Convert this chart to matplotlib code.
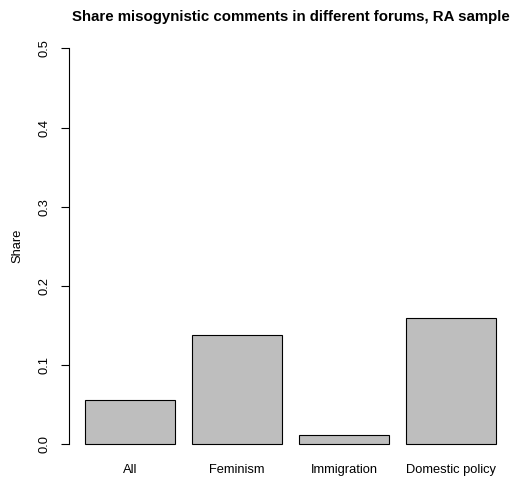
import numpy as np
import matplotlib.pyplot as plt

plt.rcParams['font.family'] = ['Liberation Sans', 'DejaVu Sans']

# Data
forums = ["All", "Feminism", "Immigration", "Domestic policy"]
shares = [0.0556, 0.138, 0.0114, 0.160]
y_ticks = [0.0, 0.1, 0.2, 0.3, 0.4, 0.5]

fig = plt.figure(figsize=(5.11, 4.79), dpi=100)
ax = fig.add_axes([69 / 511, 1 - 460.1 / 479, (512 - 69) / 511, (460.1 - 32.5) / 479])

# R-style barplot: width 1, space 0.2
x = 0.2 + np.arange(len(forums)) * 1.2 + 0.5
ax.bar(x, shares, width=1.0, color='#BEBEBE', edgecolor='black', linewidth=0.8)

ax.set_xlim(0.016, 4.984)
ax.set_ylim(-0.02, 0.52)

for s in ['top', 'right', 'bottom']:
    ax.spines[s].set_visible(False)
ax.spines['left'].set_bounds(0, 0.5)
ax.spines['left'].set_linewidth(0.8)

ax.set_yticks(y_ticks)
ax.set_yticklabels([f"{v:.1f}" for v in y_ticks], rotation=90, va='center', fontsize=9.3)
ax.tick_params(axis='y', length=5.5, width=0.8, pad=7.5)
ax.set_xticks(x)
ax.set_xticklabels(forums, fontsize=9.3)
ax.tick_params(axis='x', length=0, pad=2.5)

ax.set_ylabel("Share", fontsize=9.3, labelpad=11)
ax.set_title("Share misogynistic comments in different forums, RA sample",
             fontsize=10.8, fontweight='bold', pad=8)

fig.savefig("out.png", dpi=100)
